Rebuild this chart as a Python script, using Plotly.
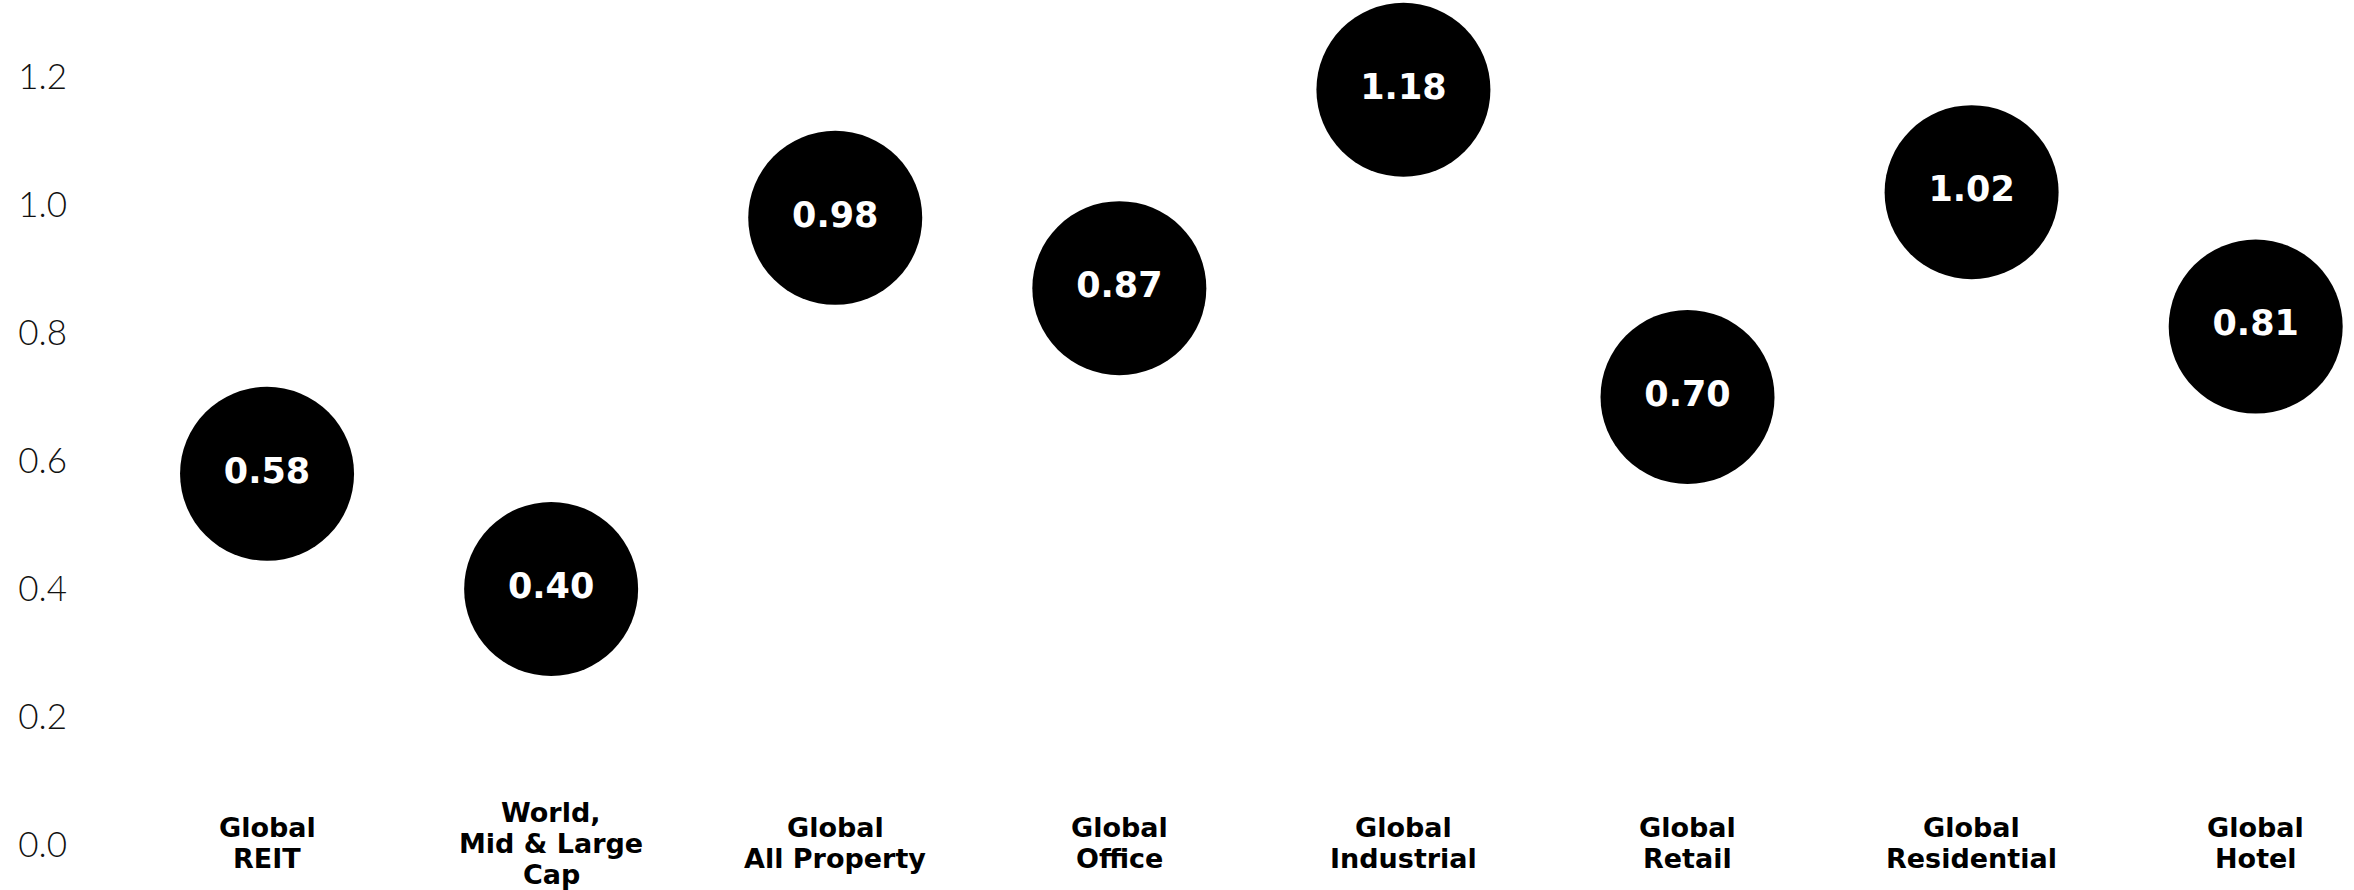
import plotly.graph_objects as go

# Categories and their values
categories = [
    "Global<br>REIT",
    "World,<br>Mid & Large<br>Cap",
    "Global<br>All Property",
    "Global<br>Office",
    "Global<br>Industrial",
    "Global<br>Retail",
    "Global<br>Residential",
    "Global<br>Hotel",
]
values = [0.58, 0.40, 0.98, 0.87, 1.18, 0.70, 1.02, 0.81]
y_ticks = [0.0, 0.2, 0.4, 0.6, 0.8, 1.0, 1.2]

positions = list(range(len(categories)))

fig = go.Figure()

fig.add_trace(
    go.Scatter(
        x=positions,
        y=values,
        mode="markers+text",
        marker=dict(size=174, color="#000000", line=dict(width=0)),
        text=[f"{v:.2f}" for v in values],
        textposition="middle center",
        textfont=dict(family="DejaVu Sans", size=35, color="#ffffff", weight=700),
        cliponaxis=False,
        hoverinfo="skip",
        showlegend=False,
    )
)

# Category names: a block of lines centred on the zero line
LINE_GAP = 31
BASE_SHIFT = 2
for xi, name in zip(positions, categories):
    lines = name.split("<br>")
    n = len(lines)
    for k, line in enumerate(lines):
        offset = ((n - 1) / 2 - k) * LINE_GAP + BASE_SHIFT
        fig.add_annotation(
            x=xi,
            y=0,
            text=line,
            showarrow=False,
            xanchor="center",
            yanchor="middle",
            yshift=offset,
            font=dict(family="DejaVu Sans", size=27, color="#000000", weight=700),
        )

fig.update_layout(
    width=2354,
    height=890,
    margin=dict(l=100, r=0, t=0, b=0),
    paper_bgcolor="#ffffff",
    plot_bgcolor="#ffffff",
    xaxis=dict(
        range=[-0.588, 7.346],
        showgrid=False,
        zeroline=False,
        showticklabels=False,
        showline=False,
    ),
    yaxis=dict(
        range=[-0.0703, 1.3203],
        tickvals=y_ticks,
        ticktext=[f"{t:.1f}" for t in y_ticks],
        showgrid=False,
        zeroline=False,
        showline=False,
        ticks="",
        ticklabelstandoff=32,
        tickfont=dict(family="Lato", size=35, color="#111111", weight=300),
    ),
)

fig.write_html("out.html")
